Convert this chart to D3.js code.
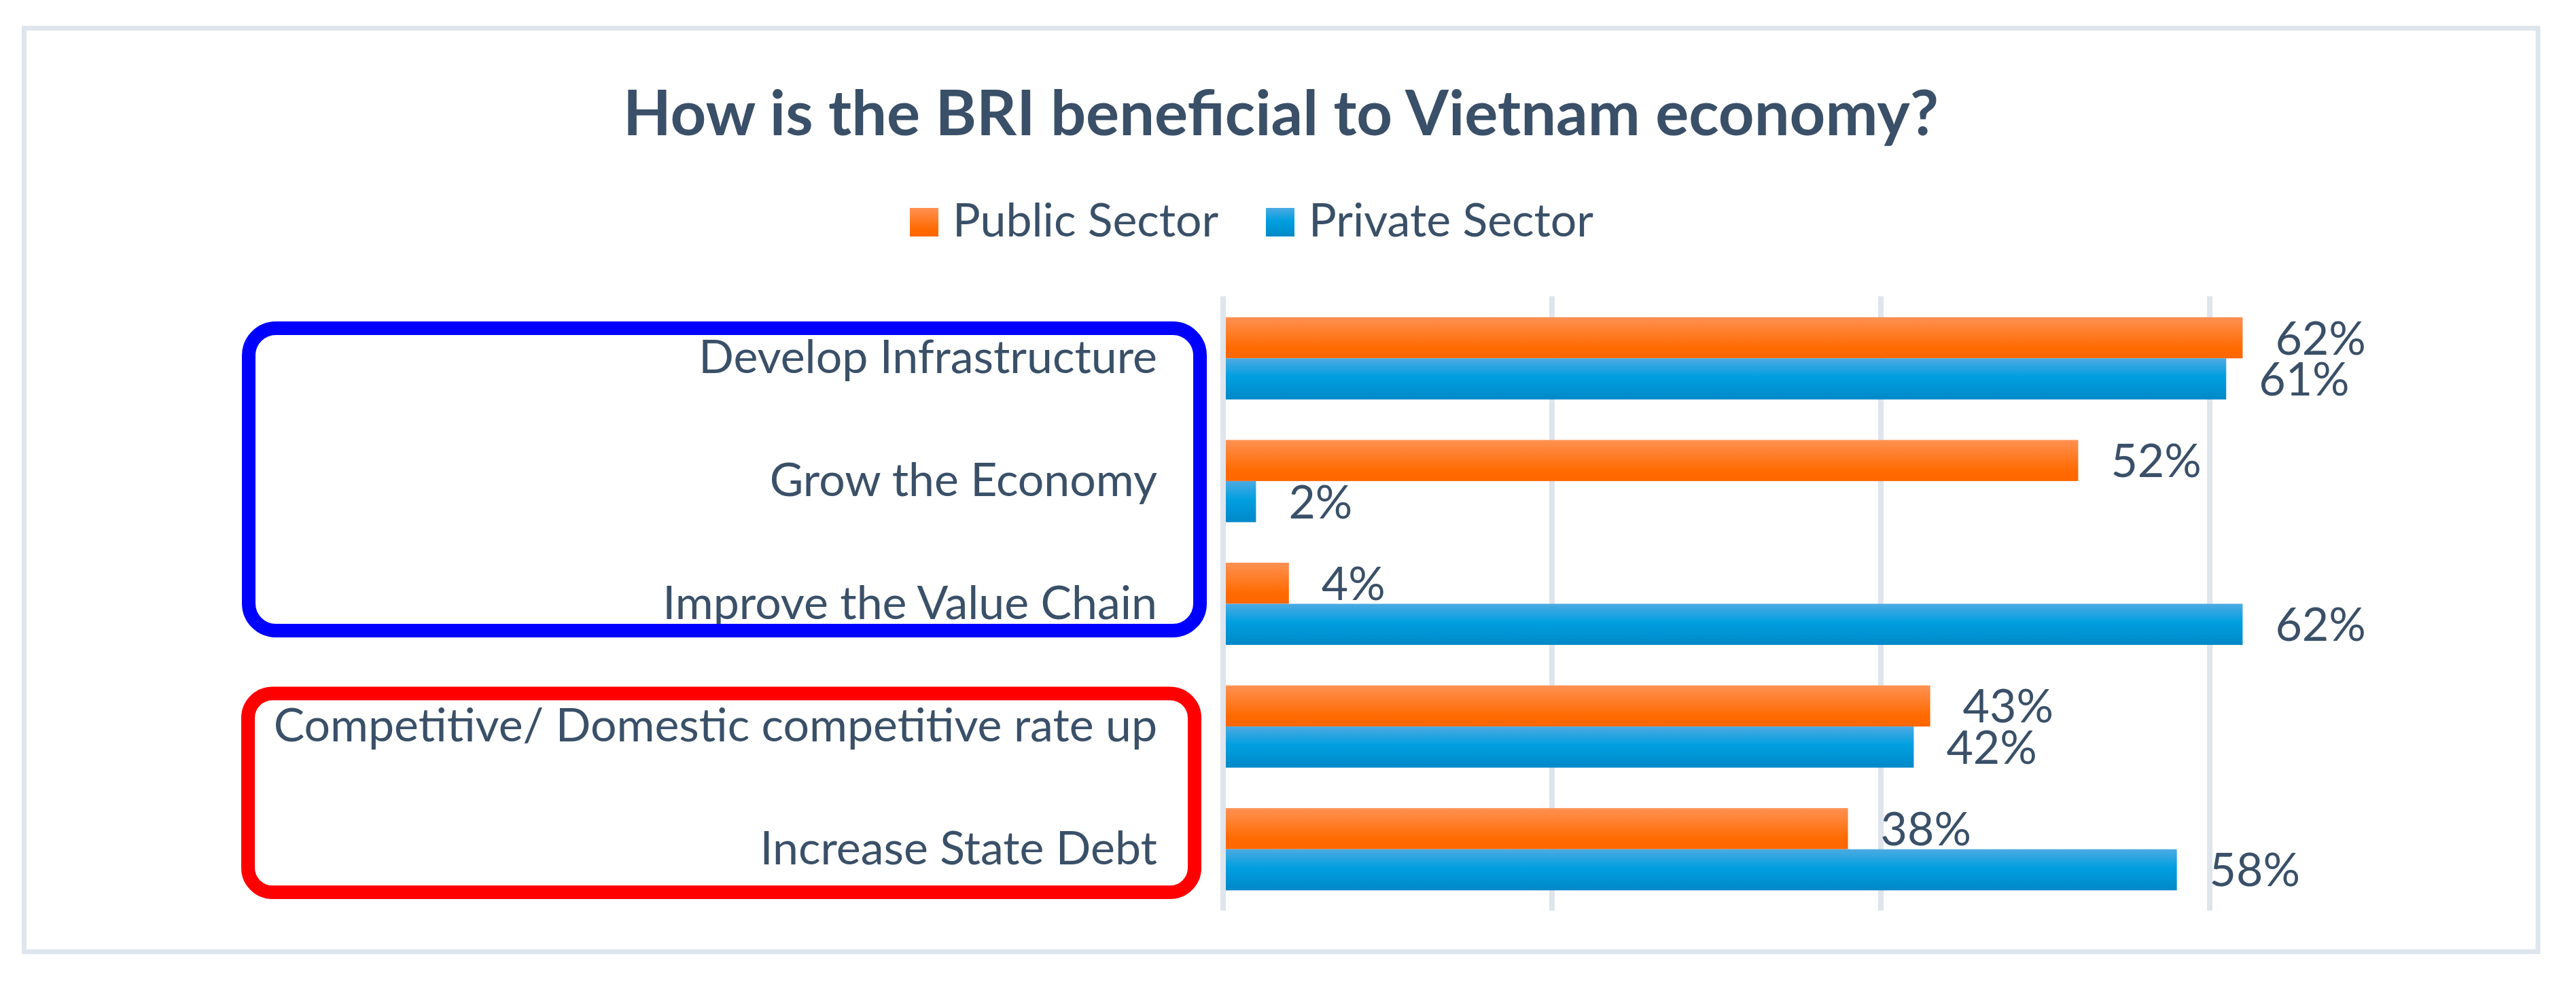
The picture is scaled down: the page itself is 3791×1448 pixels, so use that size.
<!DOCTYPE html>
<html>
<head>
<meta charset="utf-8">
<script src="https://cdn.jsdelivr.net/npm/d3@7"></script>
<style>
  body { margin: 0; background: #fff; }
  text { font-family: Lato, "Open Sans", sans-serif; fill: #3A5068; }
</style>
</head>
<body>
<svg id="chart" width="3791" height="1448"></svg>
<script>
// ---------------- data ---------------- //
var categories = [
  "Develop Infrastructure",
  "Grow the Economy",
  "Improve the Value Chain",
  "Competitive/ Domestic competitive rate up",
  "Increase State Debt"
];
var seriesNames = ["Public Sector", "Private Sector"];
var publicSector = [0.62, 0.52, 0.04, 0.43, 0.38];
var privateSector = [0.61, 0.02, 0.62, 0.42, 0.58];
var gridTicks = [0, 0.2, 0.4, 0.6];

var TITLE = "How is the BRI beneficial to Vietnam economy?";
var GRID_COLOR = "#DFE5EC",
    LABEL_SIZE = 68;

var svg = d3.select("#chart");

// gradients for the bars and legend keys
var defs = svg.append("defs");
var grads = [
  {id: "gradPublic", stops: [[0, "#FF9152"], [0.75, "#FF6A00"], [1, "#FF6600"]]},
  {id: "gradPrivate", stops: [[0, "#4DAAE2"], [0.45, "#009FE0"], [1, "#0088C8"]]}
];
grads.forEach(function(g) {
  var lg = defs.append("linearGradient")
    .attr("id", g.id)
    .attr("x1", 0).attr("y1", 0).attr("x2", 0).attr("y2", 1);
  g.stops.forEach(function(s) {
    lg.append("stop").attr("offset", s[0]).attr("stop-color", s[1]);
  });
});
var fills = {"Public Sector": "url(#gradPublic)", "Private Sector": "url(#gradPrivate)"};

// chart frame
svg.append("rect")
  .attr("x", 35.5).attr("y", 41.5)
  .attr("width", 3699.5).attr("height", 1359)
  .attr("fill", "#fff")
  .attr("stroke", GRID_COLOR)
  .attr("stroke-width", 7);

// title
svg.append("text")
  .attr("x", 1885).attr("y", 198.5)
  .attr("text-anchor", "middle")
  .attr("font-size", 92)
  .attr("font-weight", "bold")
  .text(TITLE);

// legend
var legend = svg.append("g");
var legendX = [1339, 1863];
seriesNames.forEach(function(name, i) {
  legend.append("rect")
    .attr("x", legendX[i]).attr("y", 306)
    .attr("width", 42).attr("height", 42)
    .attr("fill", fills[name]);
  legend.append("text")
    .attr("x", legendX[i] + 63).attr("y", 348)
    .attr("font-size", LABEL_SIZE)
    .text(name);
});

// scales
var x = d3.scaleLinear().domain([0, 0.8]).range([1800, 3736]);
var y = d3.scaleBand().domain(categories).range([437, 1340])
  .paddingInner(0.33).paddingOuter(0.165);
var ySub = d3.scaleBand().domain(seriesNames).range([0, y.bandwidth()]);

// gridlines
svg.append("g").selectAll("line")
  .data(gridTicks.slice(1))
  .enter().append("line")
    .attr("x1", function(d) { return x(d); })
    .attr("x2", function(d) { return x(d); })
    .attr("y1", 436).attr("y2", 1340)
    .attr("stroke", GRID_COLOR)
    .attr("stroke-width", 8);

// bars
var rows = categories.map(function(c, i) {
  return {cat: c, values: [
    {name: seriesNames[0], v: publicSector[i]},
    {name: seriesNames[1], v: privateSector[i]}
  ]};
});

var groups = svg.append("g").selectAll("g")
  .data(rows)
  .enter().append("g")
    .attr("transform", function(d) { return "translate(0," + y(d.cat) + ")"; });

groups.selectAll("rect")
  .data(function(d) { return d.values; })
  .enter().append("rect")
    .attr("x", x(0))
    .attr("y", function(d) { return ySub(d.name); })
    .attr("width", function(d) { return x(d.v) - x(0); })
    .attr("height", ySub.bandwidth())
    .attr("fill", function(d) { return fills[d.name]; });

groups.selectAll("text")
  .data(function(d) { return d.values; })
  .enter().append("text")
    .attr("x", function(d) { return x(d.v) + 48; })
    .attr("y", function(d) { return ySub(d.name) + ySub.bandwidth() / 2 + 24.5; })
    .attr("font-size", LABEL_SIZE)
    .text(function(d) { return d3.format(".0%")(d.v); });

// zero line (axis) over the bars
svg.append("line")
  .attr("x1", x(0)).attr("x2", x(0))
  .attr("y1", 436).attr("y2", 1340)
  .attr("stroke", GRID_COLOR)
  .attr("stroke-width", 8);

// category labels
svg.append("g").selectAll("text")
  .data(categories)
  .enter().append("text")
    .attr("x", 1703)
    .attr("y", function(d) { return y(d) + y.bandwidth() / 2 + 22; })
    .attr("text-anchor", "end")
    .attr("font-size", LABEL_SIZE)
    .text(function(d) { return d; });

// highlight boxes
svg.append("rect")
  .attr("x", 366).attr("y", 483)
  .attr("width", 1400).attr("height", 445)
  .attr("rx", 40)
  .attr("fill", "none")
  .attr("stroke", "#0000FF")
  .attr("stroke-width", 20);

svg.append("rect")
  .attr("x", 365).attr("y", 1020.5)
  .attr("width", 1393).attr("height", 292.5)
  .attr("rx", 36)
  .attr("fill", "none")
  .attr("stroke", "#FF0000")
  .attr("stroke-width", 20);
</script>
</body>
</html>
